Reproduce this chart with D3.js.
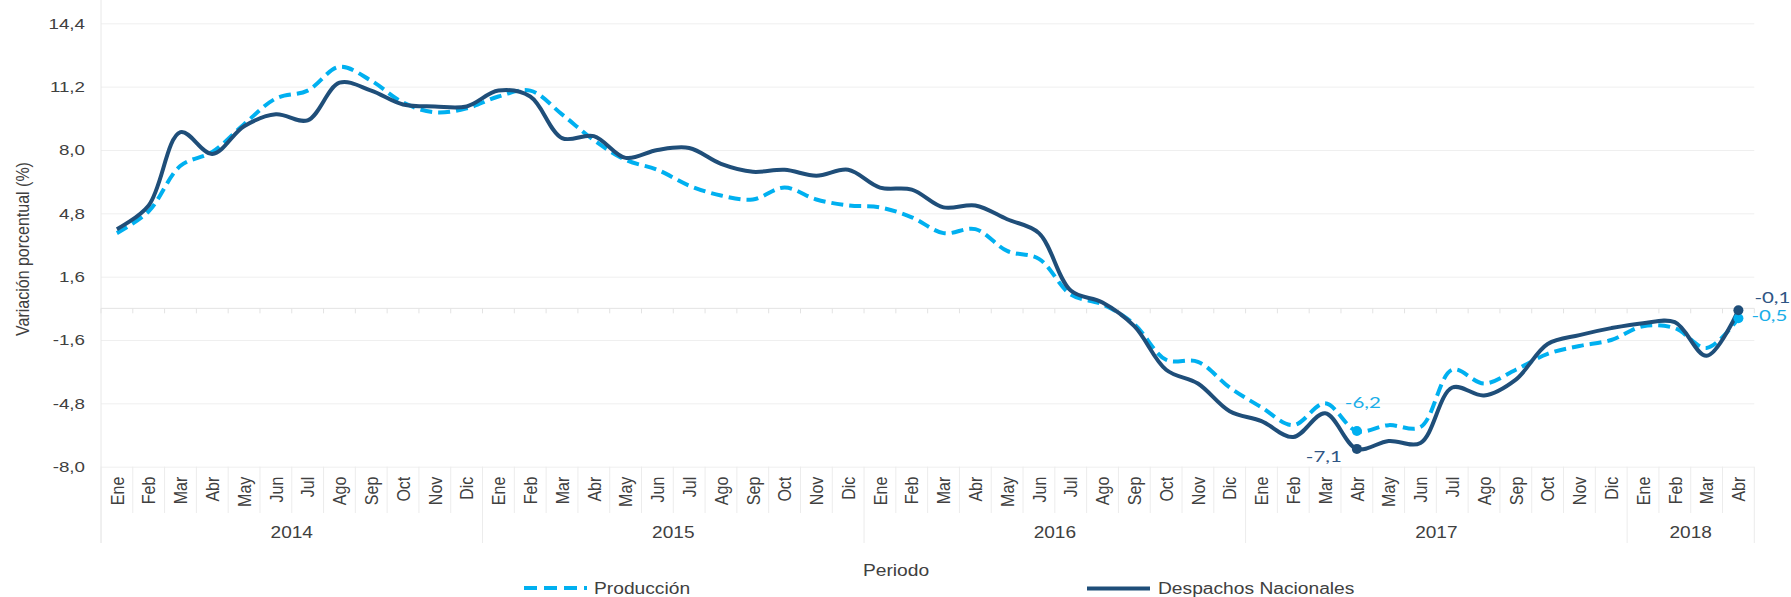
<!DOCTYPE html>
<html>
<head>
<meta charset="utf-8">
<script src="https://cdn.jsdelivr.net/npm/d3@7"></script>
<style>
html,body{margin:0;background:#fff}
text{font-family:"Liberation Sans",Arial,sans-serif}
</style>
</head>
<body>
<div id="chart"></div>
<script>
const anios=['2014','2015','2016','2017','2018'];
const mesesPorAnio=[12,12,12,12,4];
const meses=['Ene','Feb','Mar','Abr','May','Jun','Jul','Ago','Sep','Oct','Nov','Dic'];
const yTicks=[-8,-4.8,-1.6,1.6,4.8,8,11.2,14.4];

const produccion=[
  3.8,4.9,7.2,7.9,9.3,10.6,11.0,12.2,11.5,10.4,9.9,10.1,
  10.7,11.0,9.8,8.5,7.5,7.0,6.2,5.7,5.5,6.1,5.5,5.2,
  5.1,4.6,3.8,4.0,2.9,2.5,0.7,0.2,-0.8,-2.6,-2.7,-4.0,
  -5.0,-5.9,-4.8,-6.2,-5.9,-6.0,-3.1,-3.8,-3.1,-2.3,-1.9,-1.6,
  -0.9,-1.0,-2.0,-0.5
];
const despachos=[
  4.0,5.2,8.9,7.8,9.2,9.8,9.5,11.4,11.0,10.3,10.2,10.2,
  11.0,10.7,8.6,8.7,7.6,8.0,8.1,7.3,6.9,7.0,6.7,7.0,
  6.1,6.0,5.1,5.2,4.5,3.8,0.9,0.3,-0.9,-3.1,-3.8,-5.2,
  -5.7,-6.5,-5.3,-7.1,-6.7,-6.8,-4.0,-4.4,-3.6,-1.8,-1.35,-1.0,
  -0.75,-0.7,-2.4,-0.1
];
const marcados=[39,51];

const azul='#00B0F0', marino='#1F4E79', gris='#404040';
const W=1791,H=597;
const periodos=anios.flatMap((a,k)=>meses.slice(0,mesesPorAnio[k]).map(m=>({anio:a,mes:m})));

const svg=d3.select('#chart').append('svg').attr('width',W).attr('height',H);
const x=d3.scaleBand().domain(d3.range(periodos.length)).range([101,1754.3]);
const y=d3.scaleLinear().domain([-8,14.4]).range([466.7,23.3]);
const cx=i=>x(i)+x.bandwidth()/2;
const coma=v=>d3.format('.1f')(v).replace('.',',').replace('−','-');
const x0=x.range()[0], x1=x.range()[1];

function estirar(sel,k){
  sel.each(function(){
    const L=this.getComputedTextLength();
    this.setAttribute('textLength',L*k);
    this.setAttribute('lengthAdjust','spacingAndGlyphs');
  });
}

// eje y + rejilla
const gy=svg.append('g').attr('transform',`translate(${x0},0)`)
  .call(d3.axisLeft(y).tickValues(yTicks).tickFormat(coma).tickSize(-(x1-x0)).tickPadding(16));
gy.select('.domain').remove();
gy.selectAll('line').attr('stroke','#efefef');
gy.selectAll('text').attr('font-size',15).style('fill',gris);
estirar(gy.selectAll('text'),1.25);

// linea vertical izquierda
svg.append('line').attr('x1',x0).attr('x2',x0).attr('y1',0).attr('y2',543).attr('stroke','#e8e8e8');

// linea de cero con marcas
svg.append('line').attr('x1',x0).attr('x2',x1).attr('y1',y(0)).attr('y2',y(0)).attr('stroke','#e3e3e3');
const bordes=d3.range(periodos.length).map(i=>x(i)).concat([x1]);
svg.append('g').selectAll('line').data(bordes).join('line')
  .attr('x1',d=>d).attr('x2',d=>d).attr('y1',y(0)).attr('y2',y(0)+5).attr('stroke','#e3e3e3');

// separadores de categorias
const inicioAnio=new Set(); let acc=0;
mesesPorAnio.forEach(n=>{inicioAnio.add(acc);acc+=n;}); inicioAnio.add(acc);
svg.append('g').selectAll('line').data(d3.range(periodos.length+1)).join('line')
  .attr('x1',i=>i<periodos.length?x(i):x1).attr('x2',i=>i<periodos.length?x(i):x1)
  .attr('y1',y(-8)).attr('y2',i=>inicioAnio.has(i)?543:513)
  .attr('stroke','#ececec');

// meses
const gx=svg.append('g').attr('transform',`translate(0,${y(-8)})`)
  .call(d3.axisBottom(x).tickSize(0).tickFormat(i=>periodos[i].mes));
gx.select('.domain').remove();
gx.selectAll('text').attr('y',0).attr('x',0).attr('dy','0.35em')
  .attr('text-anchor','end').attr('font-size',16).style('fill',gris)
  .attr('transform','translate(0,10) rotate(-90) scale(1,1.2)');

// anios
acc=0;
const gAnios=svg.append('g');
anios.forEach((a,k)=>{
  const ini=acc, fin=acc+mesesPorAnio[k]; acc=fin;
  const xm=(x(ini)+(fin<periodos.length?x(fin):x1))/2;
  gAnios.append('text').attr('x',xm).attr('y',538).attr('text-anchor','middle')
    .attr('font-size',16).style('fill',gris).text(a);
});
estirar(gAnios.selectAll('text'),1.19);

// titulos
svg.append('text').attr('transform','translate(22,249) rotate(-90) scale(1,1.2)')
  .attr('text-anchor','middle').attr('dy','0.35em').attr('font-size',16).style('fill',gris)
  .text('Variación porcentual (%)');
const tp=svg.append('text').attr('x',896).attr('y',576).attr('text-anchor','middle')
  .attr('font-size',16).style('fill',gris).text('Periodo');
estirar(tp,1.2);

// lineas
const linea=d3.line().x((d,i)=>cx(i)).y(d=>y(d)).curve(d3.curveCatmullRom.alpha(0.5));
svg.append('path').attr('d',linea(produccion)).attr('fill','none')
  .attr('stroke',azul).attr('stroke-width',4).attr('stroke-dasharray','12,6');
svg.append('path').attr('d',linea(despachos)).attr('fill','none')
  .attr('stroke',marino).attr('stroke-width',4);

// puntos marcados
svg.append('g').selectAll('circle').data(marcados).join('circle')
  .attr('cx',i=>cx(i)).attr('cy',i=>y(produccion[i])).attr('r',5).attr('fill',azul);
svg.append('g').selectAll('circle').data(marcados).join('circle')
  .attr('cx',i=>cx(i)).attr('cy',i=>y(despachos[i])).attr('r',5).attr('fill',marino);

// etiquetas de valores
const ga=svg.append('g');
const i1=marcados[0], i2=marcados[1];
ga.append('text').attr('x',cx(i1)-12).attr('y',y(produccion[i1])-23).style('fill','#1aaee8')
  .attr('text-anchor','start').text(coma(produccion[i1]));
ga.append('text').attr('x',cx(i1)-15).attr('y',y(despachos[i1])+13).style('fill','#2f5584')
  .attr('text-anchor','end').text(coma(despachos[i1]));
ga.append('text').attr('x',cx(i2)+16).attr('y',y(despachos[i2])-7).style('fill','#2f5584')
  .attr('text-anchor','start').text(coma(despachos[i2]));
ga.append('text').attr('x',cx(i2)+13).attr('y',y(produccion[i2])+3).style('fill','#1aaee8')
  .attr('text-anchor','start').text(coma(produccion[i2]));
ga.selectAll('text').style('font-family','Lato, "Open Sans", sans-serif').attr('font-size',16)
  .attr('textLength',36).attr('lengthAdjust','spacingAndGlyphs');

// leyenda
const ley=svg.append('g');
ley.append('line').attr('x1',524).attr('x2',587).attr('y1',588).attr('y2',588)
  .attr('stroke',azul).attr('stroke-width',4).attr('stroke-dasharray','13,7');
ley.append('text').attr('x',594).attr('y',594).attr('font-size',16).style('fill',gris).text('Producción');
ley.append('line').attr('x1',1087).attr('x2',1150).attr('y1',588.5).attr('y2',588.5)
  .attr('stroke',marino).attr('stroke-width',4);
ley.append('text').attr('x',1158).attr('y',594).attr('font-size',16).style('fill',gris).text('Despachos Nacionales');
estirar(ley.selectAll('text'),1.2);
</script>
</body>
</html>
